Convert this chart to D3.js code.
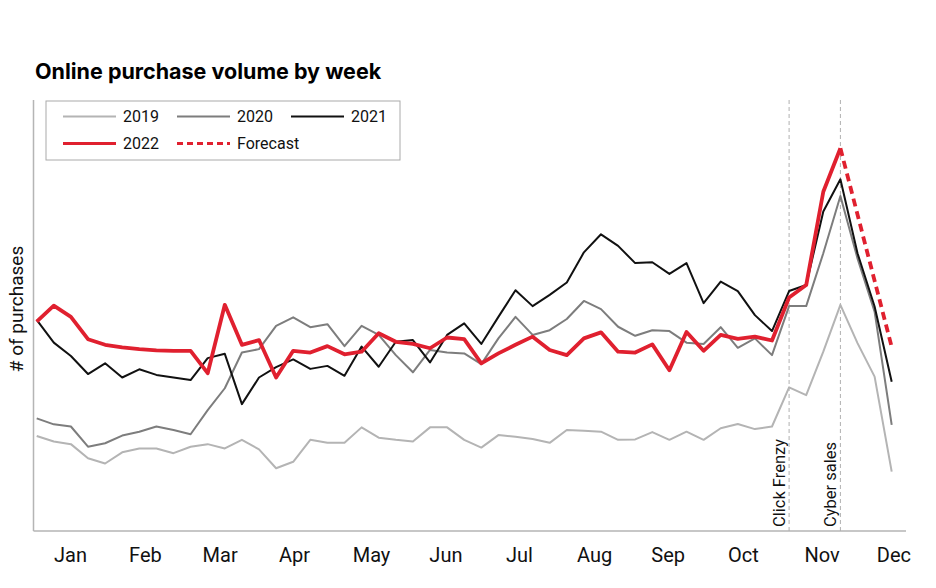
<!DOCTYPE html>
<html>
<head>
<meta charset="utf-8">
<script src="https://cdn.jsdelivr.net/npm/d3@7"></script>
<style>
  body { margin: 0; background: #fff; }
  svg { display: block; font-family: Roboto, "Liberation Sans", sans-serif; }
</style>
</head>
<body>
<svg id="svg" width="936" height="588"></svg>
<script>
// weekly index 0..50
const weeks = d3.range(51);

const v2019 = [22.1, 20.8, 20.2, 16.9, 15.7, 18.3, 19.2, 19.2, 18.1, 19.6, 20.2, 19.2, 21.2, 19.0, 14.6, 16.1, 21.2,
  20.5, 20.5, 24.1, 21.7, 21.2, 20.8, 24.1, 24.1, 21.2, 19.4, 22.3, 21.9, 21.4, 20.5, 23.5, 23.3, 23.1, 21.2, 21.3,
  23.0, 21.2, 23.1, 21.2, 23.9, 24.9, 23.7, 24.3, 33.4, 31.6, 41.7, 52.6, 43.7, 35.9, 13.8];
const v2020 = [26.2, 24.8, 24.3, 19.6, 20.4, 22.2, 23.1, 24.3, 23.5, 22.5, 28.1, 33.2, 41.5, 42.3, 47.7, 49.7, 47.4,
  48.1, 43.0, 47.7, 45.6, 40.9, 36.9, 42.1, 41.5, 41.3, 38.8, 44.8, 49.8, 45.6, 46.7, 49.3, 53.5, 51.6, 47.5, 45.4,
  46.7, 46.5, 43.8, 43.5, 47.4, 42.6, 44.8, 40.9, 52.3, 52.3, 64.6, 77.9, 63.4, 51.0, 24.7];
const v2021 = [49.1, 43.8, 40.7, 36.5, 39.0, 35.7, 37.6, 36.3, 35.7, 35.1, 40.2, 41.2, 29.5, 35.7, 38.1, 39.9, 37.7,
  38.4, 36.1, 42.9, 38.2, 44.0, 44.4, 39.2, 45.6, 48.3, 43.5, 49.8, 56.0, 52.3, 54.9, 57.8, 64.8, 69.0, 66.3, 62.3,
  62.5, 59.8, 62.3, 53.0, 58.0, 55.8, 50.2, 46.5, 55.8, 57.2, 74.3, 81.8, 64.6, 52.2, 34.7];
const v2022 = [48.7, 52.4, 49.8, 44.6, 43.3, 42.7, 42.3, 42.0, 41.9, 41.9, 36.7, 52.6, 43.3, 44.4, 35.7, 41.9, 41.5,
  43.0, 41.1, 41.7, 46.0, 44.0, 43.5, 42.5, 45.0, 44.6, 39.0, 41.3, 43.3, 45.2, 42.1, 40.9, 44.8, 46.2, 41.7, 41.5,
  43.4, 37.4, 46.3, 41.9, 45.6, 44.7, 45.2, 44.3, 54.3, 57.2, 78.9, 89.0];
// forecast starts at the last actual week
const forecastWeeks = [47, 48, 49, 50];
const forecast = [89.0, 73.6, 58.2, 42.8];

const months = ["Jan", "Feb", "Mar", "Apr", "May", "Jun", "Jul", "Aug", "Sep", "Oct", "Nov", "Dec"];
const monthPos = [1.95, 6.33, 10.7, 15.05, 19.55, 23.9, 28.2, 32.6, 36.9, 41.3, 45.9, 50.1];

const events = ["Click Frenzy", "Cyber sales"];
const eventWeeks = [44, 47];

const svg = d3.select("#svg");
const x = d3.scaleLinear().domain([0, 50]).range([36.7, 891.7]);
const y = d3.scaleLinear().domain([0, 100]).range([531, 101]);

const line = d3.line().x(d => x(d[0])).y(d => y(d[1]));

// title
svg.append("text")
  .attr("x", 35).attr("y", 79)
  .attr("font-family", "Inter, Roboto, sans-serif")
  .attr("font-size", "21.5px").attr("font-weight", "bold")
  .attr("fill", "#000")
  .text("Online purchase volume by week");

// y label
svg.append("text")
  .attr("transform", "translate(23,309) rotate(-90)")
  .attr("text-anchor", "middle")
  .attr("font-size", "19px").attr("fill", "#111")
  .text("# of purchases");

// axes lines
svg.append("line").attr("x1", 33.5).attr("x2", 33.5).attr("y1", 100).attr("y2", 531)
  .attr("stroke", "#b5b5b5").attr("stroke-width", 1.5);
svg.append("line").attr("x1", 33.5).attr("x2", 906).attr("y1", 531).attr("y2", 531)
  .attr("stroke", "#b5b5b5").attr("stroke-width", 1.5);

// month labels
const xAxis = d3.axisBottom(x).tickValues(monthPos).tickFormat((d, i) => months[i]).tickSize(0).tickPadding(0);
const ax = svg.append("g").attr("transform", "translate(0,531)").call(xAxis);
ax.select(".domain").remove();
ax.selectAll("text")
  .attr("y", 31).attr("dy", 0)
  .attr("font-size", "20px").attr("font-family", "Roboto, sans-serif").attr("fill", "#111");

// event markers
const ev = svg.append("g");
ev.selectAll("line").data(eventWeeks).join("line")
  .attr("x1", d => x(d)).attr("x2", d => x(d))
  .attr("y1", 100).attr("y2", 531)
  .attr("stroke", "#b0b0b0").attr("stroke-width", 1).attr("stroke-dasharray", "4,3");
ev.selectAll("text").data(eventWeeks).join("text")
  .attr("transform", d => `translate(${x(d) - 4},527) rotate(-90)`)
  .attr("font-size", "16.5px").attr("fill", "#111")
  .text((d, i) => events[i]);

// series
const series = [
  { key: "2019", vals: v2019, color: "#b4b4b4", w: 2 },
  { key: "2020", vals: v2020, color: "#7d7d7d", w: 2 },
  { key: "2021", vals: v2021, color: "#111111", w: 2 },
];
svg.append("g").selectAll("path").data(series).join("path")
  .attr("d", s => line(s.vals.map((v, i) => [weeks[i], v])))
  .attr("fill", "none")
  .attr("stroke", s => s.color)
  .attr("stroke-width", s => s.w)
  .attr("stroke-linejoin", "round");

svg.append("path")
  .attr("d", line(forecastWeeks.map((w, i) => [w, forecast[i]])))
  .attr("fill", "none").attr("stroke", "#e0202f").attr("stroke-width", 3.8)
  .attr("stroke-dasharray", "8,5");

svg.append("path")
  .attr("d", line(v2022.map((v, i) => [weeks[i], v])))
  .attr("fill", "none").attr("stroke", "#e0202f").attr("stroke-width", 3.8)
  .attr("stroke-linejoin", "round");

// legend
const legendData = [
  { key: "2019", color: "#b4b4b4", w: 2, dash: null, col: 0, row: 0 },
  { key: "2020", color: "#7d7d7d", w: 2, dash: null, col: 1, row: 0 },
  { key: "2021", color: "#111111", w: 2, dash: null, col: 2, row: 0 },
  { key: "2022", color: "#e0202f", w: 3, dash: null, col: 0, row: 1 },
  { key: "Forecast", color: "#e0202f", w: 3, dash: "6,4", col: 1, row: 1 },
];
const legend = svg.append("g").attr("transform", "translate(46,101)");
legend.append("rect")
  .attr("x", 0).attr("y", 0).attr("width", 354).attr("height", 59)
  .attr("fill", "#fff").attr("stroke", "#aaa").attr("stroke-width", 1);
const li = legend.selectAll(".legend-item").data(legendData).join("g")
  .attr("class", "legend-item")
  .attr("transform", d => `translate(${17 + d.col * 114},${d.row === 0 ? 15.5 : 42.5})`);
li.append("line")
  .attr("x1", 0).attr("x2", 53).attr("y1", 0).attr("y2", 0)
  .attr("stroke", d => d.color).attr("stroke-width", d => d.w)
  .attr("stroke-dasharray", d => d.dash);
li.append("text")
  .attr("x", 60).attr("y", 0).attr("dy", "0.35em")
  .attr("font-size", "16px").attr("fill", "#111")
  .text(d => d.key);
</script>
</body>
</html>
